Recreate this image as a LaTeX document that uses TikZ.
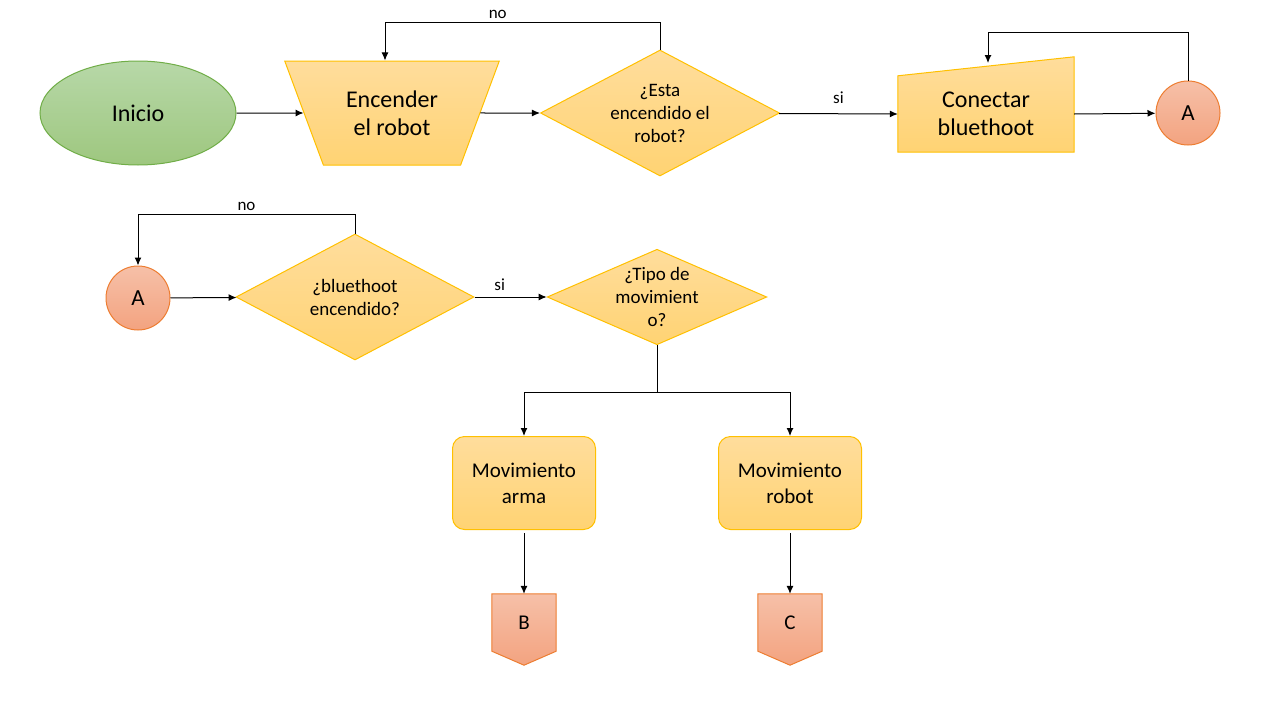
\documentclass[tikz,border=0pt]{standalone}
\usepackage{fontspec}
\setmainfont{Carlito}
\usetikzlibrary{arrows.meta,shapes.geometric}

\definecolor{greentop}{RGB}{183,216,168}
\definecolor{greenbot}{RGB}{158,199,127}
\definecolor{greenline}{RGB}{112,173,71}
\definecolor{yellowtop}{RGB}{255,221,156}
\definecolor{yellowbot}{RGB}{255,211,115}
\definecolor{yellowline}{RGB}{255,192,0}
\definecolor{redtop}{RGB}{246,192,168}
\definecolor{redbot}{RGB}{243,163,128}
\definecolor{redline}{RGB}{237,125,49}

\begin{document}
\begin{tikzpicture}[x=1pt, y=-1pt,
    >={Latex[length=8pt,width=7pt]},
    big/.style={font=\fontsize{24}{28}\selectfont},
    mid/.style={font=\fontsize{21}{26}\selectfont},
    small/.style={font=\fontsize{19}{23}\selectfont},
    lbl/.style={font=\fontsize{17}{20}\selectfont},
    yellowbox/.style={draw=yellowline, line width=1pt, top color=yellowtop, bottom color=yellowbot},
    redbox/.style={draw=redline, line width=1pt, top color=redtop, bottom color=redbot},
    decision/.style={yellowbox, diamond, inner sep=0pt, align=center, small},
    link/.style={redbox, circle, minimum size=64pt, inner sep=0pt, font=\fontsize{23}{27}\selectfont},
    arrow/.style={->, line width=1pt}]
    \useasboundingbox (0,0) rectangle (1280,720);

    % fila 1
    \node[ellipse, draw=greenline, line width=1pt, top color=greentop, bottom color=greenbot,
        minimum width=196pt, minimum height=104pt, inner sep=0pt, big] (inicio) at (138,113) {Inicio};
    \node[trapezium, trapezium angle=60, trapezium stretches=true, shape border rotate=180,
        minimum width=215pt, minimum height=104pt, inner sep=0pt, yellowbox, big, align=center] (encender) at (392,113) {Encender\\el robot};
    \node[decision, minimum width=239pt, minimum height=126pt, aspect=1.9] (esta) at (660,113) {¿Esta\\encendido el\\robot?};
    \node[minimum width=176pt, minimum height=76pt, inner sep=0pt] (conectar) at (986,114) {};
    \path[yellowbox] (conectar.south west) -- (conectar.south east) -- ([yshift=19pt]conectar.north east)
        -- (conectar.north west) -- cycle;
    \node[big, align=center] at (conectar) {Conectar\\bluethoot};
    \node[link] (A1) at (1188,113) {A};

    \coordinate (no1a) at (660,22);
    \coordinate (no1b) at (385,22);
    \coordinate (rep1a) at (1188,32);
    \coordinate (rep1b) at (988,32);
    \coordinate (rep1c) at (988,63);

    \draw[arrow] (inicio) -- (encender);
    \draw[arrow] (encender) -- (esta);
    \draw[arrow] (esta) -- node[above, lbl, yshift=6pt]{si} (conectar.west);
    \draw[arrow] (conectar.east) -- (A1);
    \draw[arrow] (esta.north) -- (no1a) -- node[above, lbl, pos=0.59]{no} (no1b) -- (encender.north -| no1b);
    \draw[arrow] (A1.north) -- (rep1a) -- (rep1b) -- (rep1c);

    % fila 2
    \node[link] (A2) at (138,298) {A};
    \node[decision, minimum width=238pt, minimum height=126pt, aspect=1.9] (bt) at (355,297) {¿bluethoot\\encendido?};
    \node[decision, minimum width=218pt, minimum height=95pt, aspect=2.3] (tipo) at (657,297) {¿Tipo de\\movimient\\o?};
    \node[yellowbox, rounded corners=12pt, minimum width=143pt, minimum height=93pt, align=center, mid] (arma) at (524,483) {Movimiento\\arma};
    \node[yellowbox, rounded corners=12pt, minimum width=143pt, minimum height=93pt, align=center, mid] (robot) at (790,483) {Movimiento\\robot};

    \coordinate (no2a) at (355,214);
    \coordinate (no2b) at (138,214);
    \coordinate (split) at (657,392);

    \draw[arrow] (A2) -- (bt);
    \draw[arrow] (bt) -- node[above, lbl, yshift=3pt, pos=0.35]{si} (tipo);
    \draw[arrow] (bt.north) -- (no2a) -- node[above, lbl]{no} (no2b) -- (A2.north);
    \draw[line width=1pt] (tipo.south) -- (split);
    \draw[arrow] (split) -| (arma.north);
    \draw[arrow] (split) -| (robot.north);

    % conectores de pagina
    \node[minimum width=64pt, minimum height=57pt, inner sep=0pt] (B) at (524,622.5) {};
    \path[redbox] (B.north west) -- (B.north east) -- (B.south east) -- ([yshift=-14pt]B.south)
        -- (B.south west) -- cycle;
    \node[mid] at (B) {B};
    \node[minimum width=64pt, minimum height=57pt, inner sep=0pt] (C) at (790,622.5) {};
    \path[redbox] (C.north west) -- (C.north east) -- (C.south east) -- ([yshift=-14pt]C.south)
        -- (C.south west) -- cycle;
    \node[mid] at (C) {C};

    \draw[arrow] ([yshift=-3pt]arma.south) -- (B.north);
    \draw[arrow] ([yshift=-3pt]robot.south) -- (C.north);
\end{tikzpicture}
\end{document}
